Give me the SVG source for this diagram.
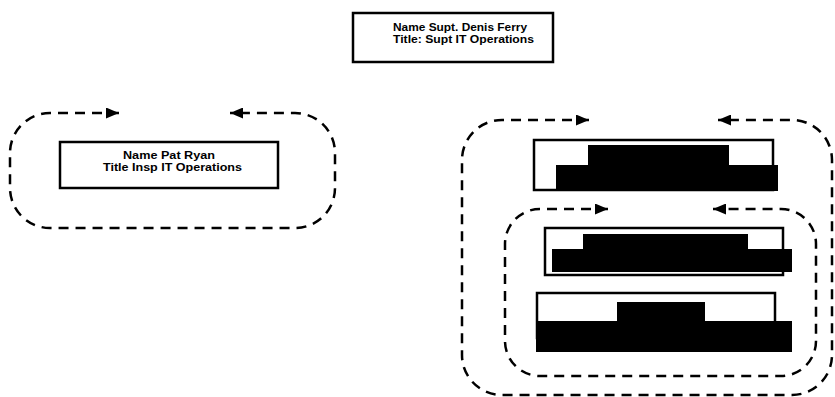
<svg xmlns="http://www.w3.org/2000/svg" width="835" height="397" viewBox="0 0 835 397">
  <style>
    .box { fill: #fff; stroke: #000; stroke-width: 2.5; }
    .redact { fill: #000; stroke: none; }
    .loop { fill: none; stroke: #000; stroke-width: 2.5; stroke-dasharray: 10 7; marker-start: url(#head); marker-end: url(#head); }
    .lbl { font-family: "Liberation Sans", Arial, sans-serif; font-size: 10px; font-weight: bold; fill: #000; text-anchor: start; }
  </style>
  <defs>
    <marker id="head" viewBox="0 0 13 11" refX="13" refY="5.5" markerWidth="13" markerHeight="11" markerUnits="userSpaceOnUse" orient="auto-start-reverse">
      <path d="M0,0 L13,5.5 L0,11 z" fill="#000"/>
    </marker>
  </defs>
  <rect width="835" height="397" fill="#fff"/>

  <!-- reporting loops -->
  <g id="connectors">
    <path class="loop" d="M119,113 H50 A40,40 0 0 0 10,153 V188 A40,40 0 0 0 50,228 H295 A40,40 0 0 0 335,188 V153 A40,40 0 0 0 295,113 H230"/>
    <path class="loop" d="M589,120 H502 A40,40 0 0 0 462,160 V355 A40,40 0 0 0 502,395 H792 A40,40 0 0 0 832,355 V160 A40,40 0 0 0 792,120 H718"/>
    <path class="loop" d="M608,209 H540 A35,35 0 0 0 505,244 V341 A35,35 0 0 0 540,376 H781 A35,35 0 0 0 816,341 V244 A35,35 0 0 0 781,209 H713"/>
  </g>

  <!-- superintendent -->
  <g id="supt">
    <rect class="box" x="353" y="13" width="200" height="49"/>
    <text class="lbl" x="393" y="31" textLength="134" lengthAdjust="spacingAndGlyphs">Name  Supt. Denis Ferry</text>
    <text class="lbl" x="393" y="43" textLength="141" lengthAdjust="spacingAndGlyphs">Title: Supt  IT Operations</text>
  </g>

  <!-- inspector -->
  <g id="insp">
    <rect class="box" x="60" y="142" width="218" height="46"/>
    <text class="lbl" x="123" y="159" textLength="92" lengthAdjust="spacingAndGlyphs">Name  Pat Ryan</text>
    <text class="lbl" x="103" y="171" textLength="139" lengthAdjust="spacingAndGlyphs">Title  Insp  IT Operations</text>
  </g>

  <!-- redacted entries -->
  <g id="entry1">
    <rect class="box" x="534" y="140" width="239" height="50"/>
    <polygon class="redact" points="588,145 729,145 729,165 778,165 778,191 556,191 556,165 588,165"/>
  </g>
  <g id="entry2">
    <rect class="box" x="545" y="228" width="238" height="47"/>
    <polygon class="redact" points="583,234 748,234 748,249 792,249 792,272 552,272 552,249 583,249"/>
  </g>
  <g id="entry3">
    <rect class="box" x="537" y="293" width="238" height="45"/>
    <polygon class="redact" points="617,302 705,302 705,321 792,321 792,352 536,352 536,321 617,321"/>
  </g>
</svg>
